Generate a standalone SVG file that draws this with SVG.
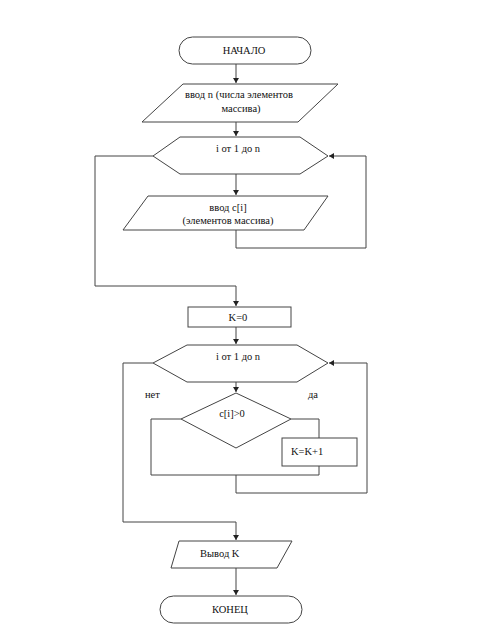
<svg xmlns="http://www.w3.org/2000/svg" width="500" height="630" viewBox="0 0 500 630">
<defs>
<style>
.s{fill:#fff;stroke:#444;stroke-width:1}
.c{fill:none;stroke:#444;stroke-width:1}
text{font-family:"Liberation Serif","Times New Roman",serif;font-size:10.5px;fill:#111}
.m{text-anchor:middle}
</style>
<marker id="a" markerWidth="6" markerHeight="6" refX="5" refY="3" orient="auto" markerUnits="userSpaceOnUse">
<path d="M0,0 L5,3 L0,6 Z" fill="#222"/>
</marker>
</defs>
<rect width="500" height="630" fill="#fff"/>
<g id="connectors">
<line class="c" x1="236" y1="64" x2="236" y2="83" marker-end="url(#a)"/>
<line class="c" x1="236" y1="122" x2="236" y2="136" marker-end="url(#a)"/>
<line class="c" x1="236" y1="174" x2="236" y2="195" marker-end="url(#a)"/>
<polyline class="c" points="236,230 236,248 366,248 366,156 329,156" marker-end="url(#a)"/>
<polyline class="c" points="153,156 95,156 95,286 236,286 236,306" marker-end="url(#a)"/>
<line class="c" x1="236" y1="327" x2="236" y2="344" marker-end="url(#a)"/>
<line class="c" x1="236" y1="382" x2="236" y2="392" marker-end="url(#a)"/>
<polyline class="c" points="181,419 151,419 151,475 319,475 319,466"/>
<polyline class="c" points="291,419 319,419 319,438"/>
<polyline class="c" points="236,475 236,493 367,493 367,363 329,363" marker-end="url(#a)"/>
<polyline class="c" points="153,363 123,363 123,522 236,522 236,540" marker-end="url(#a)"/>
<line class="c" x1="236" y1="568" x2="236" y2="595" marker-end="url(#a)"/>
</g>
<g id="start">
<rect class="s" x="179" y="37" width="132" height="27" rx="13.5"/>
<text class="m" x="244" y="54">НАЧАЛО</text>
</g>
<g id="input-n">
<polygon class="s" points="183,84 338,84 298,122 142,122"/>
<text x="185" y="98">ввод n (числа элементов</text>
<text class="m" x="241" y="112">массива)</text>
</g>
<g id="loop1">
<polygon class="s" points="153,156 180,137 300,137 328,156 300,174 180,174"/>
<text class="m" x="238" y="152">i от 1 до n</text>
</g>
<g id="input-c">
<polygon class="s" points="148,196 328,196 304,230 123,230"/>
<text class="m" x="228" y="211">ввод c[i]</text>
<text class="m" x="228" y="224">(элементов массива)</text>
</g>
<g id="k0">
<rect class="s" x="188" y="307" width="103" height="20"/>
<text class="m" x="238" y="321">K=0</text>
</g>
<g id="loop2">
<polygon class="s" points="153,363 187,345 297,345 328,363 297,382 187,382"/>
<text class="m" x="238" y="360">i от 1 до n</text>
</g>
<g id="labels">
<text x="145" y="398">нет</text>
<text x="308" y="398">да</text>
</g>
<g id="cond">
<polygon class="s" points="236,393 291,419 236,448 181,419"/>
<text class="m" x="232" y="417">c[i]>0</text>
</g>
<g id="inc">
<rect class="s" x="282" y="438" width="75" height="28"/>
<text x="291" y="455">K=K+1</text>
</g>
<g id="output">
<polygon class="s" points="179,541 292,541 277,568 171,568"/>
<text x="200" y="557">Вывод K</text>
</g>
<g id="end">
<rect class="s" x="160" y="596" width="142" height="27" rx="13.5"/>
<text class="m" x="230" y="613">КОНЕЦ</text>
</g>
</svg>
